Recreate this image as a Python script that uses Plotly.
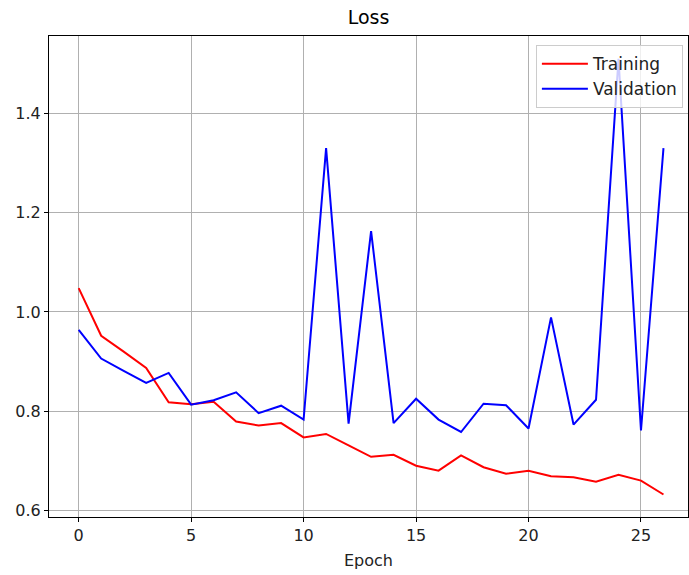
import plotly.graph_objects as go

epochs = list(range(27))
training = [1.048, 0.952, 0.920, 0.887, 0.818, 0.814, 0.819, 0.779, 0.771, 0.776,
            0.747, 0.754, 0.731, 0.708, 0.712, 0.690, 0.680, 0.711, 0.687, 0.674,
            0.680, 0.669, 0.667, 0.658, 0.672, 0.660, 0.632]
validation = [0.964, 0.906, 0.881, 0.857, 0.877, 0.813, 0.822, 0.838, 0.796, 0.811,
              0.783, 1.330, 0.775, 1.163, 0.776, 0.825, 0.783, 0.758, 0.815, 0.812,
              0.765, 0.989, 0.773, 0.823, 1.510, 0.761, 1.330]
x_ticks = [0, 5, 10, 15, 20, 25]
y_ticks = [0.6, 0.8, 1.0, 1.2, 1.4]

fig = go.Figure()
fig.add_trace(go.Scatter(x=epochs, y=training, mode="lines", name="Training",
                         line=dict(color="red", width=2)))
fig.add_trace(go.Scatter(x=epochs, y=validation, mode="lines", name="Validation",
                         line=dict(color="blue", width=2)))

axis_common = dict(showline=True, linecolor="black", linewidth=1, mirror=True,
                   ticks="outside", ticklen=4, tickcolor="black",
                   showgrid=True, gridcolor="#b0b0b0", gridwidth=1, zeroline=False,
                   tickfont=dict(family="DejaVu Sans", size=16, color="#222"))

fig.update_layout(
    width=689, height=575,
    margin=dict(l=49, r=1, t=36, b=58),
    plot_bgcolor="white", paper_bgcolor="white",
    title=dict(text="Loss", x=0.5, xref="paper", xanchor="center", y=0.97, yanchor="middle",
               font=dict(family="DejaVu Sans", size=19, color="black")),
    xaxis=dict(range=[-1.32, 27.09], tickvals=x_ticks,
               title=dict(text="Epoch", font=dict(family="DejaVu Sans", size=16, color="#222"), standoff=10),
               **axis_common),
    yaxis=dict(range=[0.5867, 1.556], tickvals=y_ticks, ticktext=[f"{v:.1f}" for v in y_ticks],
               **axis_common),
    legend=dict(x=0.992, y=0.981, xanchor="right", yanchor="top",
                bgcolor="rgba(255,255,255,0.8)", bordercolor="#cccccc", borderwidth=1,
                itemwidth=46,
                font=dict(family="DejaVu Sans", size=17, color="#222")),
    showlegend=True,
)

fig.write_html("out.html")
